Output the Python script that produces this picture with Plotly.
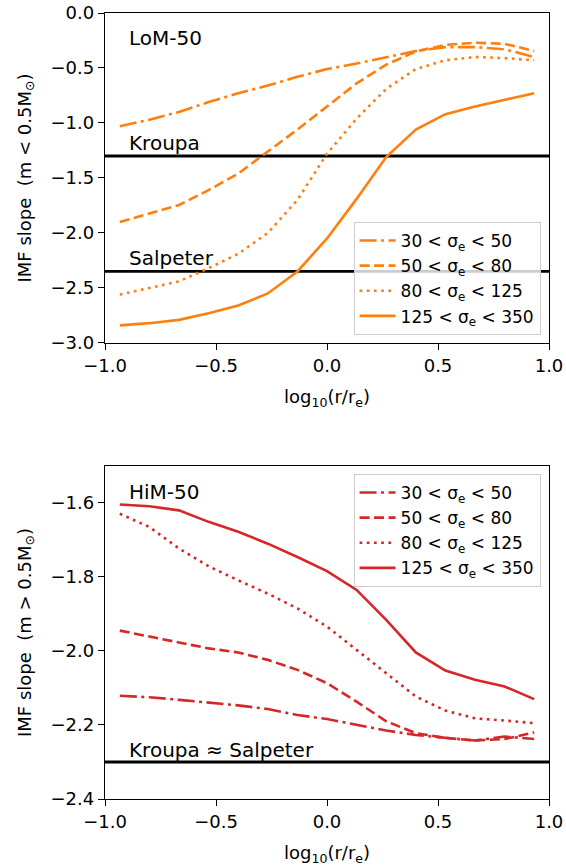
import plotly.graph_objects as go

# ---- data ----
log_r = [-0.9333, -0.8, -0.6667, -0.5333, -0.4, -0.2667, -0.1333, 0.0,
         0.1333, 0.2667, 0.4, 0.5333, 0.6667, 0.8, 0.9333]

bins = ["30 &lt; σ<sub>e</sub> &lt; 50", "50 &lt; σ<sub>e</sub> &lt; 80",
        "80 &lt; σ<sub>e</sub> &lt; 125", "125 &lt; σ<sub>e</sub> &lt; 350"]

lom_30_50 = [-1.03, -0.97, -0.90, -0.81, -0.73, -0.66, -0.58, -0.51,
             -0.46, -0.40, -0.345, -0.31, -0.31, -0.33, -0.40]
lom_50_80 = [-1.90, -1.82, -1.745, -1.61, -1.46, -1.26, -1.06, -0.85,
             -0.64, -0.47, -0.35, -0.29, -0.27, -0.28, -0.345]
lom_80_125 = [-2.56, -2.50, -2.44, -2.32, -2.19, -2.00, -1.70, -1.28,
              -0.96, -0.69, -0.51, -0.43, -0.40, -0.41, -0.43]
lom_125_350 = [-2.84, -2.82, -2.79, -2.73, -2.66, -2.55, -2.35, -2.05,
               -1.69, -1.31, -1.06, -0.92, -0.85, -0.79, -0.73]

him_30_50 = [-2.121, -2.125, -2.132, -2.139, -2.147, -2.157, -2.173, -2.184,
             -2.200, -2.215, -2.227, -2.235, -2.242, -2.231, -2.238]
him_50_80 = [-1.945, -1.961, -1.977, -1.993, -2.004, -2.024, -2.051, -2.087,
             -2.137, -2.190, -2.222, -2.235, -2.242, -2.238, -2.220]
him_80_125 = [-1.629, -1.665, -1.723, -1.771, -1.809, -1.845, -1.885, -1.934,
              -1.997, -2.060, -2.123, -2.161, -2.182, -2.188, -2.195]
him_125_350 = [-1.604, -1.609, -1.620, -1.651, -1.678, -1.710, -1.746, -1.784,
               -1.835, -1.916, -2.004, -2.053, -2.078, -2.096, -2.130]

lom_refs = {"Kroupa": -1.3, "Salpeter": -2.35}
him_refs = {"Kroupa ≈ Salpeter": -2.3}

x_ticks = [-1.0, -0.5, 0.0, 0.5, 1.0]
lom_yticks = [0.0, -0.5, -1.0, -1.5, -2.0, -2.5, -3.0]
him_yticks = [-1.6, -1.8, -2.0, -2.2, -2.4]

# ---- style ----
ORANGE = "#ff7f0e"
RED = "#d62728"
FONT = "DejaVu Sans"
LW = 2.6
dashes = ["17px,4.5px,3px,4.5px", "10px,4.5px", "2.7px,4.5px", "solid"]

fig = go.Figure()

lom = [lom_30_50, lom_50_80, lom_80_125, lom_125_350]
him = [him_30_50, him_50_80, him_80_125, him_125_350]

for name, ys, d in zip(bins, lom, dashes):
    fig.add_trace(go.Scatter(x=log_r, y=ys, mode="lines", name=name,
                             line=dict(color=ORANGE, width=LW, dash=d),
                             xaxis="x", yaxis="y", legend="legend"))
for name, ys, d in zip(bins, him, dashes):
    fig.add_trace(go.Scatter(x=log_r, y=ys, mode="lines", name=name,
                             line=dict(color=RED, width=LW, dash=d),
                             xaxis="x2", yaxis="y2", legend="legend2"))

shapes = []
annots = []
for label, val in lom_refs.items():
    shapes.append(dict(type="line", xref="x domain", yref="y", x0=0, x1=1,
                       y0=val, y1=val, line=dict(color="black", width=2.8),
                       layer="below"))
    annots.append(dict(xref="x", yref="y", x=-0.9, y=val + 0.12, text=label,
                       showarrow=False, xanchor="left", yanchor="middle",
                       font=dict(size=20, color="black", family=FONT)))
for label, val in him_refs.items():
    shapes.append(dict(type="line", xref="x2 domain", yref="y2", x0=0, x1=1,
                       y0=val, y1=val, line=dict(color="black", width=2.8),
                       layer="below"))
    annots.append(dict(xref="x2", yref="y2", x=-0.9, y=val + 0.032, text=label,
                       showarrow=False, xanchor="left", yanchor="middle",
                       font=dict(size=20, color="black", family=FONT)))

annots.append(dict(xref="x", yref="y", x=-0.9, y=-0.23, text="LoM-50",
                   showarrow=False, xanchor="left", yanchor="middle",
                   font=dict(size=20, color="black", family=FONT)))
annots.append(dict(xref="x2", yref="y2", x=-0.9, y=-1.571, text="HiM-50",
                   showarrow=False, xanchor="left", yanchor="middle",
                   font=dict(size=20, color="black", family=FONT)))

axis_common = dict(showline=True, linecolor="black", linewidth=1.4, mirror=True,
                   ticks="outside", ticklen=6, tickwidth=1.4, tickcolor="black",
                   showgrid=False, zeroline=False, automargin=False,
                   ticklabeloverflow="allow",
                   tickfont=dict(size=18, color="black", family=FONT))

xtitle = dict(text="log<sub>10</sub>(r/r<sub>e</sub>)",
              font=dict(size=18, color="black", family=FONT), standoff=15)

top_dom = [0.5802, 1.0]
bot_dom = [0.0, 0.4237]

legend_common = dict(bgcolor="rgba(255,255,255,0.8)", bordercolor="#cccccc",
                     borderwidth=1, itemwidth=36, tracegroupgap=0,
                     font=dict(size=17, color="black", family=FONT))

fig.update_layout(
    width=566, height=867,
    margin=dict(l=105, r=17, t=13, b=68),
    paper_bgcolor="white", plot_bgcolor="white",
    font=dict(family=FONT, color="black"),
    xaxis=dict(axis_common, domain=[0, 1], anchor="y", range=[-1, 1],
               tickvals=x_ticks, tickformat=".1f", title=xtitle),
    yaxis=dict(axis_common, domain=top_dom, anchor="x", range=[-3, 0],
               tickvals=lom_yticks, tickformat=".1f",
               title=dict(text="IMF slope  (m &lt; 0.5M<sub>⊙</sub>)",
                          font=dict(size=18, color="black", family=FONT), standoff=14)),
    xaxis2=dict(axis_common, domain=[0, 1], anchor="y2", range=[-1, 1],
                tickvals=x_ticks, tickformat=".1f", title=xtitle),
    yaxis2=dict(axis_common, domain=bot_dom, anchor="x2", range=[-2.4, -1.5],
                tickvals=him_yticks, tickformat=".1f",
                title=dict(text="IMF slope  (m &gt; 0.5M<sub>⊙</sub>)",
                           font=dict(size=18, color="black", family=FONT), standoff=14)),
    legend=dict(legend_common, x=0.981, y=0.5903, xanchor="right", yanchor="bottom"),
    legend2=dict(legend_common, x=0.981, y=0.4135, xanchor="right", yanchor="top"),
    shapes=shapes, annotations=annots,
)

fig.write_html("out.html", config={"displayModeBar": False},
               post_script="document.body.style.margin='0';document.body.style.overflow='hidden';")
